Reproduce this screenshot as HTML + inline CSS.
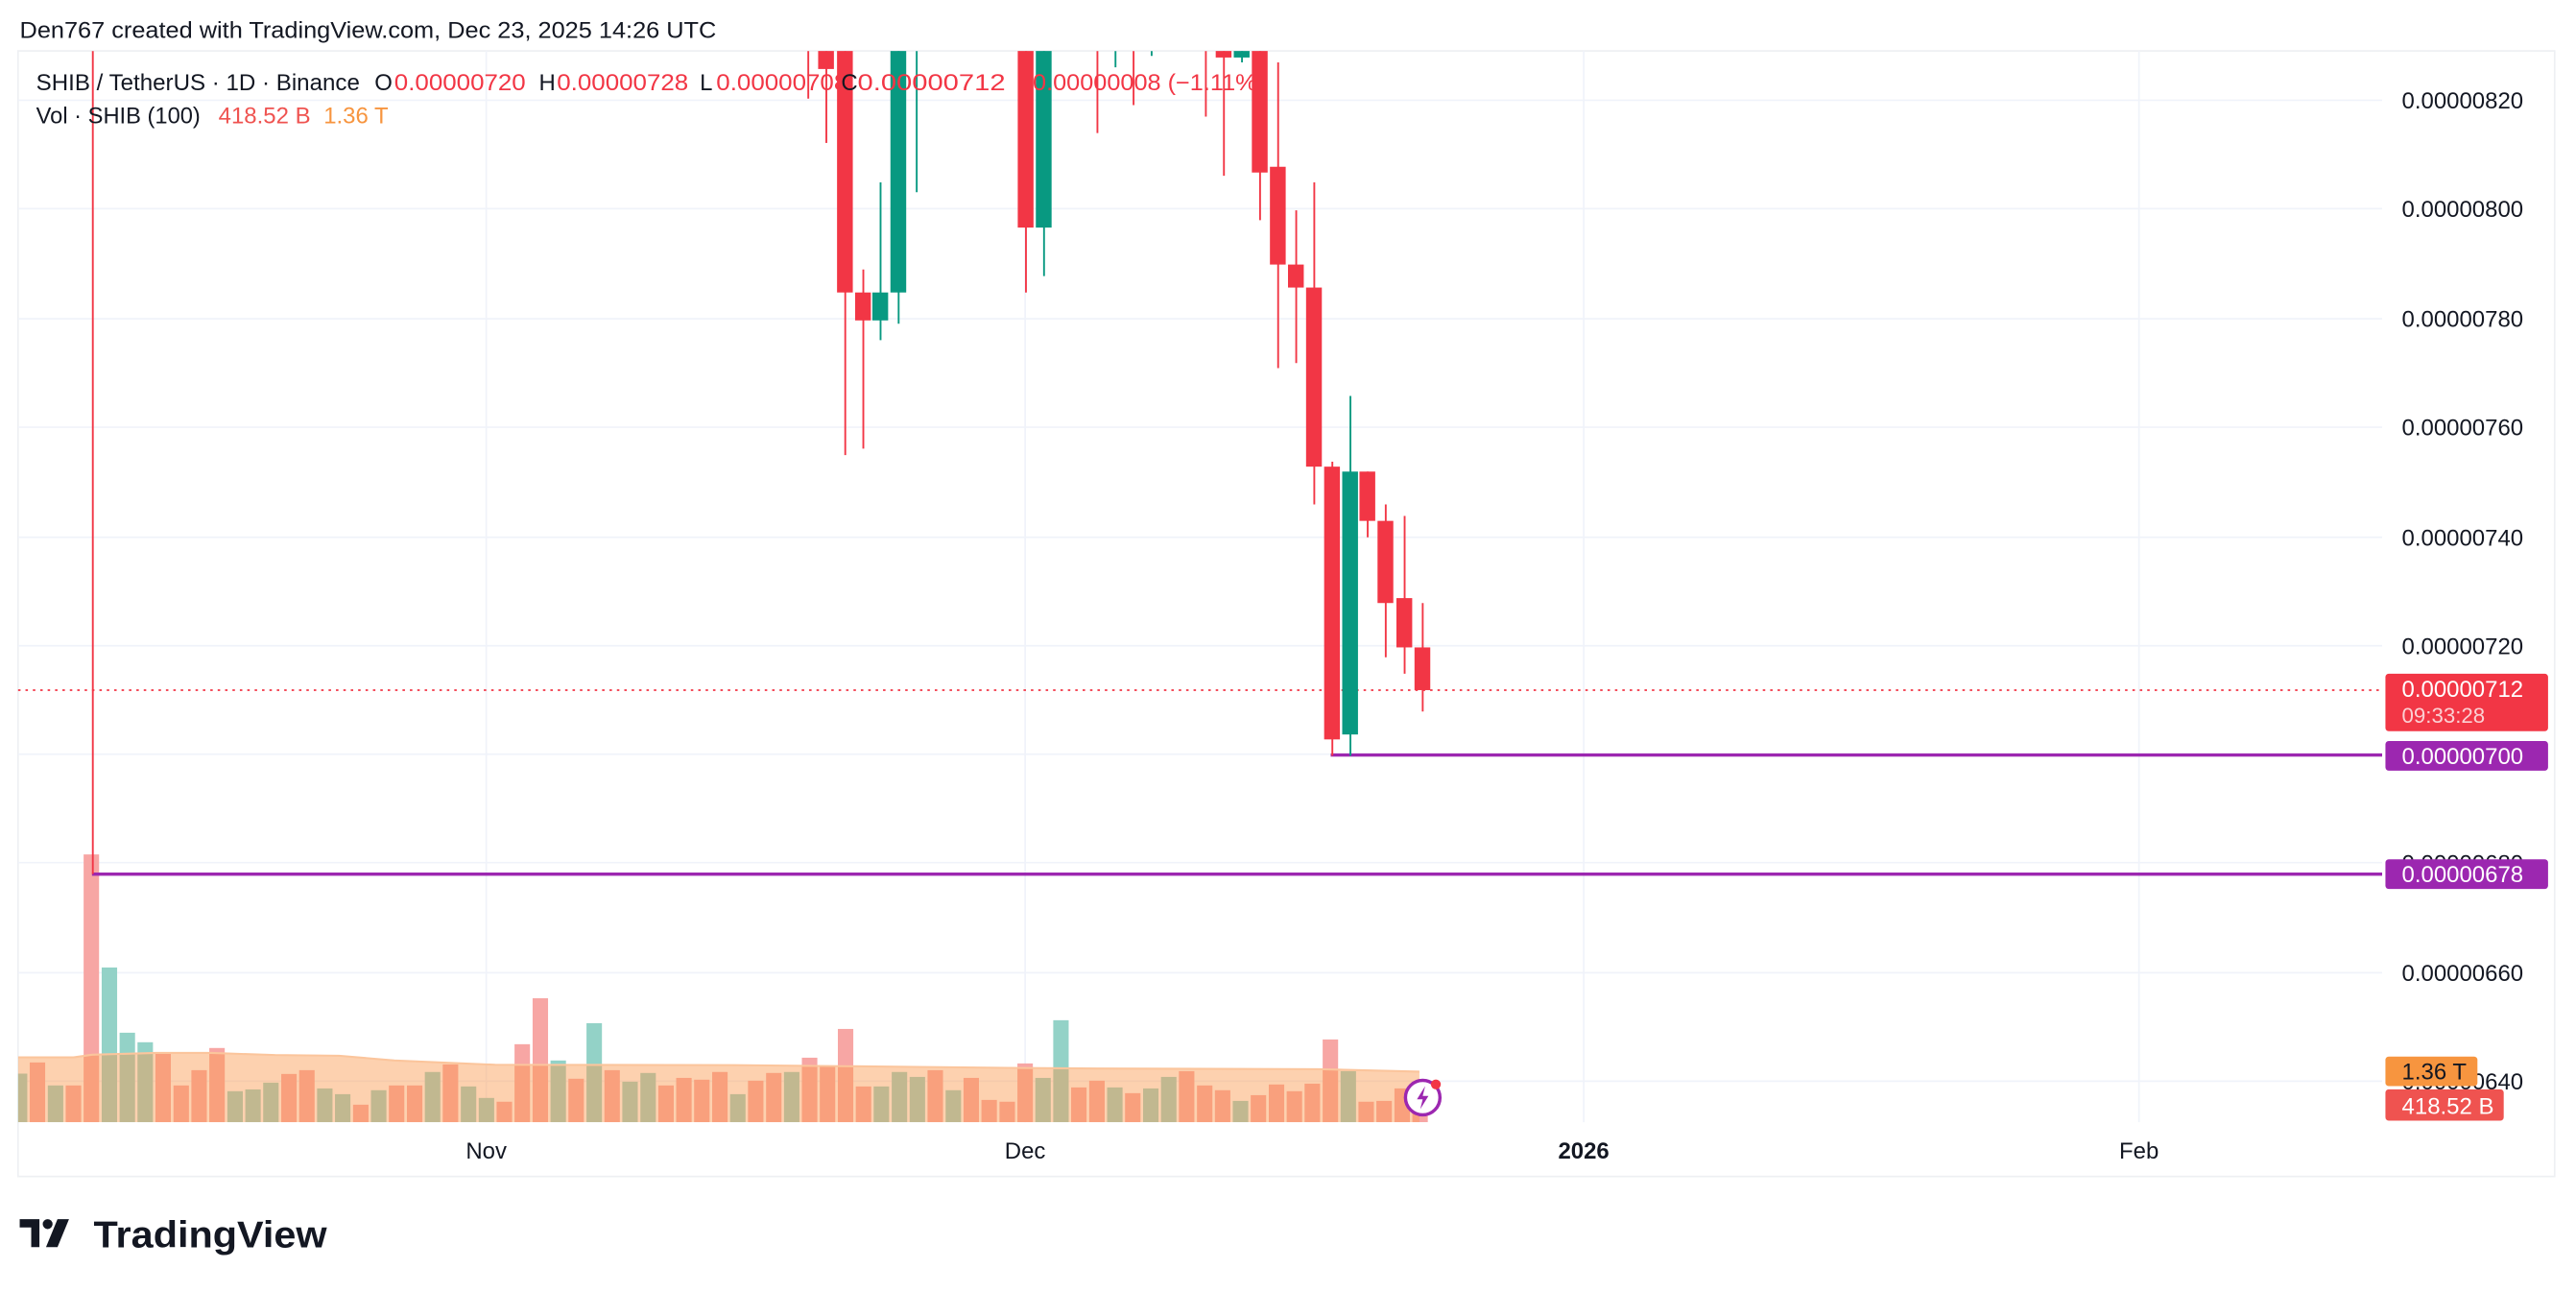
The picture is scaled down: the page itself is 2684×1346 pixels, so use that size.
<!DOCTYPE html>
<html><head><meta charset="utf-8"><style>
html,body{margin:0;padding:0;background:#fff;width:2684px;height:1346px;overflow:hidden}
svg{display:block}
text{font-family:"Liberation Sans",sans-serif}
</style></head><body>
<svg width="2684" height="1346" viewBox="0 0 1568 786.3" preserveAspectRatio="none" xmlns="http://www.w3.org/2000/svg">
<defs><clipPath id="c"><rect x="11" y="31" width="1439" height="652"/></clipPath></defs>
<rect x="0" y="0" width="1568" height="786.3" fill="#fff"/>
<!-- frame -->
<rect x="11" y="31" width="1544" height="685" fill="none" stroke="#eef0f3" stroke-width="1"/>
<!-- grid -->
<g stroke="#f0f3fa" stroke-width="1">
<line x1="11" y1="61" x2="1450" y2="61"/><line x1="11" y1="127" x2="1450" y2="127"/>
<line x1="11" y1="194" x2="1450" y2="194"/><line x1="11" y1="260" x2="1450" y2="260"/>
<line x1="11" y1="327" x2="1450" y2="327"/><line x1="11" y1="393" x2="1450" y2="393"/>
<line x1="11" y1="459" x2="1450" y2="459"/><line x1="11" y1="525" x2="1450" y2="525"/>
<line x1="11" y1="592" x2="1450" y2="592"/><line x1="11" y1="658" x2="1450" y2="658"/>
<line x1="296" y1="31" x2="296" y2="683"/><line x1="624" y1="31" x2="624" y2="683"/>
<line x1="964" y1="31" x2="964" y2="683"/><line x1="1302" y1="31" x2="1302" y2="683"/>
</g>
<!-- volume bars -->
<g clip-path="url(#c)">
<g fill="#93d2c7">
<rect x="7.2" y="653.4" width="9.4" height="29.6"/>
<rect x="29.1" y="660.6" width="9.4" height="22.4"/>
<rect x="61.9" y="588.8" width="9.4" height="94.2"/>
<rect x="72.8" y="628.5" width="9.4" height="54.5"/>
<rect x="83.7" y="634.3" width="9.4" height="48.7"/>
<rect x="138.4" y="664.1" width="9.4" height="18.9"/>
<rect x="149.3" y="663" width="9.4" height="20"/>
<rect x="160.2" y="658.9" width="9.4" height="24.1"/>
<rect x="193" y="662.4" width="9.4" height="20.6"/>
<rect x="203.9" y="665.9" width="9.4" height="17.1"/>
<rect x="225.8" y="663.5" width="9.4" height="19.5"/>
<rect x="258.6" y="652.4" width="9.4" height="30.6"/>
<rect x="280.5" y="661.2" width="9.4" height="21.8"/>
<rect x="291.4" y="668.2" width="9.4" height="14.8"/>
<rect x="335.1" y="645.4" width="9.4" height="37.6"/>
<rect x="357" y="622.7" width="9.4" height="60.3"/>
<rect x="378.8" y="658.3" width="9.4" height="24.7"/>
<rect x="389.8" y="653" width="9.4" height="30"/>
<rect x="444.4" y="665.9" width="9.4" height="17.1"/>
<rect x="477.2" y="652.4" width="9.4" height="30.6"/>
<rect x="531.8" y="661.2" width="9.4" height="21.8"/>
<rect x="542.8" y="652.4" width="9.4" height="30.6"/>
<rect x="553.7" y="655.4" width="9.4" height="27.6"/>
<rect x="575.6" y="663.5" width="9.4" height="19.5"/>
<rect x="630.2" y="656" width="9.4" height="27"/>
<rect x="641.1" y="620.9" width="9.4" height="62.1"/>
<rect x="673.9" y="661.8" width="9.4" height="21.2"/>
<rect x="695.8" y="662.4" width="9.4" height="20.6"/>
<rect x="706.7" y="655.4" width="9.4" height="27.6"/>
<rect x="750.4" y="670" width="9.4" height="13"/>
<rect x="816" y="651.9" width="9.4" height="31.1"/>
</g>
<g fill="#f7a6a4">
<rect x="18.1" y="646.6" width="9.4" height="36.4"/>
<rect x="40" y="660.6" width="9.4" height="22.4"/>
<rect x="50.9" y="520" width="9.4" height="163"/>
<rect x="94.6" y="640.8" width="9.4" height="42.2"/>
<rect x="105.6" y="660.6" width="9.4" height="22.4"/>
<rect x="116.5" y="651.3" width="9.4" height="31.7"/>
<rect x="127.4" y="637.8" width="9.4" height="45.2"/>
<rect x="171.2" y="653.6" width="9.4" height="29.4"/>
<rect x="182.1" y="651.3" width="9.4" height="31.7"/>
<rect x="214.9" y="672.3" width="9.4" height="10.7"/>
<rect x="236.7" y="660.6" width="9.4" height="22.4"/>
<rect x="247.7" y="660.6" width="9.4" height="22.4"/>
<rect x="269.5" y="647.8" width="9.4" height="35.2"/>
<rect x="302.3" y="670.5" width="9.4" height="12.5"/>
<rect x="313.2" y="635.5" width="9.4" height="47.5"/>
<rect x="324.2" y="607.5" width="9.4" height="75.5"/>
<rect x="346" y="656.5" width="9.4" height="26.5"/>
<rect x="367.9" y="651.3" width="9.4" height="31.7"/>
<rect x="400.7" y="660.6" width="9.4" height="22.4"/>
<rect x="411.6" y="656" width="9.4" height="27"/>
<rect x="422.5" y="657.1" width="9.4" height="25.9"/>
<rect x="433.5" y="652.4" width="9.4" height="30.6"/>
<rect x="455.3" y="657.7" width="9.4" height="25.3"/>
<rect x="466.3" y="653" width="9.4" height="30"/>
<rect x="488.1" y="643.7" width="9.4" height="39.3"/>
<rect x="499" y="648.4" width="9.4" height="34.6"/>
<rect x="510" y="626.2" width="9.4" height="56.8"/>
<rect x="520.9" y="661.2" width="9.4" height="21.8"/>
<rect x="564.6" y="651.3" width="9.4" height="31.7"/>
<rect x="586.5" y="656" width="9.4" height="27"/>
<rect x="597.4" y="669.4" width="9.4" height="13.6"/>
<rect x="608.4" y="670.5" width="9.4" height="12.5"/>
<rect x="619.3" y="647.2" width="9.4" height="35.8"/>
<rect x="652" y="661.8" width="9.4" height="21.2"/>
<rect x="663" y="657.7" width="9.4" height="25.3"/>
<rect x="684.8" y="665.3" width="9.4" height="17.7"/>
<rect x="717.6" y="651.9" width="9.4" height="31.1"/>
<rect x="728.6" y="660.6" width="9.4" height="22.4"/>
<rect x="739.5" y="663.5" width="9.4" height="19.5"/>
<rect x="761.3" y="666.5" width="9.4" height="16.5"/>
<rect x="772.3" y="660" width="9.4" height="23"/>
<rect x="783.2" y="664.1" width="9.4" height="18.9"/>
<rect x="794.1" y="659.5" width="9.4" height="23.5"/>
<rect x="805.1" y="632.6" width="9.4" height="50.4"/>
<rect x="826.9" y="670.5" width="9.4" height="12.5"/>
<rect x="837.8" y="670" width="9.4" height="13"/>
<rect x="848.8" y="662.4" width="9.4" height="20.6"/>
<rect x="859.7" y="668" width="9.4" height="15"/>
</g>
<!-- MA area -->
<path d="M11,643.5 L44.8,643.5 L56,641.9 L95,640.8 L128.5,640.8 L167.5,642.1 L206.5,642.5 L240,645.4 L301.3,648 L446.3,648.2 L557.9,649.3 L613.7,649.9 L669.4,650.3 L803.3,650.7 L864,652.2 L864,683 L11,683 Z" fill="rgba(251,152,77,0.45)"/>
<path d="M11,643.5 L44.8,643.5 L56,641.9 L95,640.8 L128.5,640.8 L167.5,642.1 L206.5,642.5 L240,645.4 L301.3,648 L446.3,648.2 L557.9,649.3 L613.7,649.9 L669.4,650.3 L803.3,650.7 L864,652.2" fill="none" stroke="#fbc59c" stroke-width="1.2"/>
</g>
<!-- price lines -->
<line x1="11" y1="420" x2="1450" y2="420" stroke="#f23645" stroke-width="1" stroke-dasharray="1.5,3"/>
<line x1="810" y1="459.5" x2="1450" y2="459.5" stroke="#9c27b0" stroke-width="2"/>
<line x1="56" y1="532" x2="1450" y2="532" stroke="#9c27b0" stroke-width="2"/>
<!-- candles -->
<g clip-path="url(#c)">
<g stroke="#f23645" stroke-width="1.1">
<line x1="56.5" y1="31" x2="56.5" y2="532"/>
<line x1="492" y1="31" x2="492" y2="60"/>
<line x1="503" y1="31" x2="503" y2="87"/>
<line x1="514.5" y1="31" x2="514.5" y2="277"/>
<line x1="525.5" y1="164" x2="525.5" y2="273"/>
<line x1="624.5" y1="31" x2="624.5" y2="178"/>
<line x1="668" y1="31" x2="668" y2="81"/>
<line x1="690" y1="31" x2="690" y2="64"/>
<line x1="734" y1="31" x2="734" y2="71"/>
<line x1="745" y1="31" x2="745" y2="107"/>
<line x1="767" y1="31" x2="767" y2="134"/>
<line x1="778" y1="38" x2="778" y2="224"/>
<line x1="789" y1="128" x2="789" y2="221"/>
<line x1="800" y1="111" x2="800" y2="307"/>
<line x1="811" y1="281" x2="811" y2="460"/>
<line x1="832.5" y1="287" x2="832.5" y2="327"/>
<line x1="843.5" y1="307" x2="843.5" y2="400"/>
<line x1="855" y1="314" x2="855" y2="410"/>
<line x1="866" y1="367" x2="866" y2="433"/>
</g>
<g fill="#f23645">
<rect x="498" y="28" width="9.6" height="14"/>
<rect x="509.5" y="28" width="9.6" height="150"/>
<rect x="520.5" y="178" width="9.6" height="17"/>
<rect x="619.5" y="28" width="9.6" height="110.5"/>
<rect x="740" y="28" width="9.6" height="7"/>
<rect x="762" y="28" width="9.6" height="77"/>
<rect x="773" y="101.5" width="9.6" height="59.5"/>
<rect x="784" y="161" width="9.6" height="14"/>
<rect x="795" y="175" width="9.6" height="109"/>
<rect x="806" y="284" width="9.6" height="166"/>
<rect x="827.5" y="287" width="9.6" height="30"/>
<rect x="838.5" y="317" width="9.6" height="50"/>
<rect x="850" y="364" width="9.6" height="30"/>
<rect x="861" y="394" width="9.6" height="26"/>
</g>
<g stroke="#089981" stroke-width="1.1">
<line x1="536" y1="111" x2="536" y2="207"/>
<line x1="547" y1="31" x2="547" y2="197"/>
<line x1="558" y1="31" x2="558" y2="117"/>
<line x1="635.5" y1="31" x2="635.5" y2="168"/>
<line x1="679" y1="31" x2="679" y2="41"/>
<line x1="701" y1="31" x2="701" y2="34"/>
<line x1="756" y1="31" x2="756" y2="38"/>
<line x1="822" y1="241" x2="822" y2="460"/>
</g>
<g fill="#089981">
<rect x="531" y="178" width="9.6" height="17"/>
<rect x="542" y="28" width="9.6" height="150"/>
<rect x="630.5" y="28" width="9.6" height="110.5"/>
<rect x="751" y="28" width="9.6" height="7"/>
<rect x="817" y="287" width="9.6" height="160"/>
</g>
</g>
<!-- lightning icon -->
<circle cx="866" cy="668" r="10.5" fill="#fff" stroke="#9c27b0" stroke-width="2"/>
<path d="M867.5,661 L862.5,669 L866,669 L864.5,675 L869.5,667 L866,667 Z" fill="#9c27b0"/>
<circle cx="874" cy="660" r="3" fill="#f23645"/>
<!-- header -->
<text x="12" y="23" font-size="14" fill="#131722" textLength="424" lengthAdjust="spacingAndGlyphs">Den767 created with TradingView.com, Dec 23, 2025 14:26 UTC</text>
<g font-size="14">
<text x="22" y="55" fill="#131722" textLength="197" lengthAdjust="spacingAndGlyphs">SHIB / TetherUS · 1D · Binance</text>
<text x="228" y="55" fill="#131722">O</text><text x="240" y="55" fill="#f23645" textLength="80" lengthAdjust="spacingAndGlyphs">0.00000720</text>
<text x="328" y="55" fill="#131722">H</text><text x="339" y="55" fill="#f23645" textLength="80" lengthAdjust="spacingAndGlyphs">0.00000728</text>
<text x="426" y="55" fill="#131722">L</text><text x="436" y="55" fill="#f23645" textLength="80" lengthAdjust="spacingAndGlyphs">0.00000708</text>
<text x="512" y="55" fill="#131722">C</text><text x="522" y="55" fill="#f23645" textLength="90" lengthAdjust="spacingAndGlyphs">0.00000712</text>
<text x="620" y="55" fill="#f23645" textLength="150" lengthAdjust="spacingAndGlyphs">−0.00000008 (−1.11%)</text>
<text x="22" y="75" fill="#131722" textLength="100" lengthAdjust="spacingAndGlyphs">Vol · SHIB (100)</text>
<text x="133" y="75" fill="#ef5350">418.52 B</text>
<text x="197" y="75" fill="#f7953f">1.36 T</text>
</g>
<!-- y axis labels -->
<g font-size="14" fill="#131722">
<text x="1462" y="66">0.00000820</text>
<text x="1462" y="132">0.00000800</text>
<text x="1462" y="199">0.00000780</text>
<text x="1462" y="265">0.00000760</text>
<text x="1462" y="332">0.00000740</text>
<text x="1462" y="398">0.00000720</text>
<text x="1462" y="530">0.00000680</text>
<text x="1462" y="597">0.00000660</text>
<text x="1462" y="663">0.00000640</text>
</g>
<rect x="1452" y="410" width="99" height="35" rx="2" fill="#f23645"/>
<text x="1462" y="424" font-size="14" fill="#fff">0.00000712</text>
<text x="1462" y="440" font-size="13" fill="#fbd0d3">09:33:28</text>
<rect x="1452" y="451" width="99" height="18" rx="2" fill="#9c27b0"/>
<text x="1462" y="465" font-size="14" fill="#fff">0.00000700</text>
<rect x="1452" y="523" width="99" height="18" rx="2" fill="#9c27b0"/>
<text x="1462" y="537" font-size="14" fill="#fff">0.00000678</text>
<rect x="1452" y="643" width="56" height="18" rx="2" fill="#f7953f"/>
<text x="1462" y="657" font-size="14" fill="#131722">1.36 T</text>
<rect x="1452" y="663" width="72" height="19" rx="2" fill="#ef5350"/>
<text x="1462" y="678" font-size="14" fill="#fff">418.52 B</text>
<!-- x axis -->
<g font-size="14" fill="#131722" text-anchor="middle">
<text x="296" y="705">Nov</text>
<text x="624" y="705">Dec</text>
<text x="964" y="705" font-weight="bold">2026</text>
<text x="1302" y="705">Feb</text>
</g>
<!-- logo -->
<g fill="#131722">
<path d="M12,742 L24,742 L24,759 L19,759 L19,747 L12,747 Z"/>
<circle cx="29" cy="745" r="3"/>
<path d="M35,742 L42,742 L35,759 L28,759 Z"/>
</g>
<text x="57" y="759" font-size="23" font-weight="bold" fill="#131722" textLength="142" lengthAdjust="spacingAndGlyphs">TradingView</text>
</svg>
</body></html>
